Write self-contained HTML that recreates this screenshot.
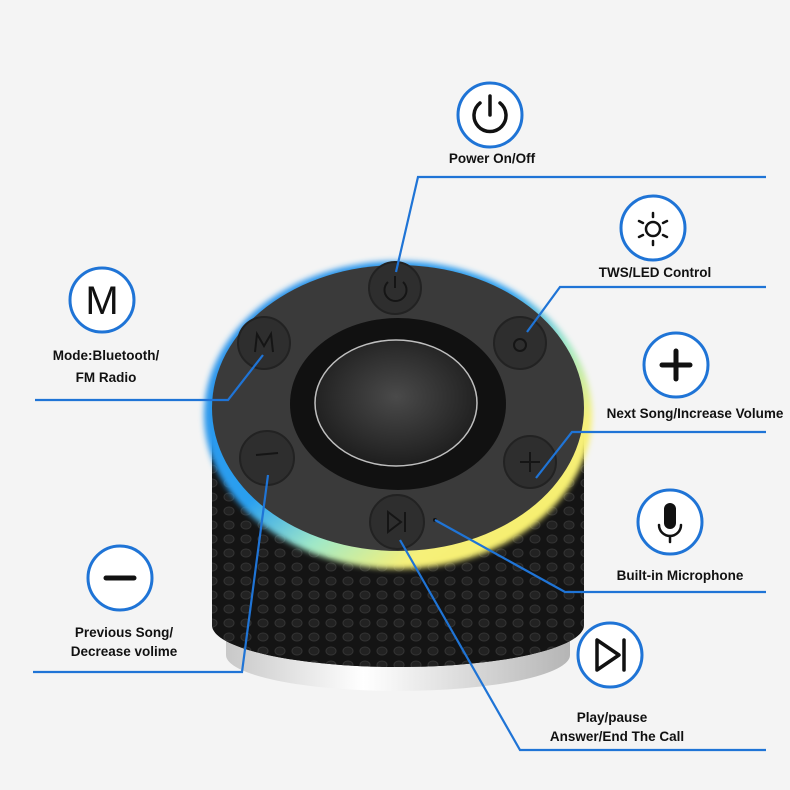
<!DOCTYPE html>
<html><head><meta charset="utf-8"><style>
html,body{margin:0;padding:0;background:#f4f4f4;}
svg{display:block}
text{font-family:"Liberation Sans",sans-serif;font-weight:bold;font-size:13.5px;fill:#111;text-anchor:middle}
</style></head><body>
<svg width="790" height="790" viewBox="0 0 790 790" xmlns="http://www.w3.org/2000/svg">
<defs>
<linearGradient id="glow" x1="0" y1="0" x2="1" y2="1">
<stop offset="0" stop-color="#2a8de8"/>
<stop offset="0.45" stop-color="#2aa0f0"/>
<stop offset="0.6" stop-color="#9fe8c8"/>
<stop offset="0.75" stop-color="#f6f07a"/>
<stop offset="1" stop-color="#f8ee60"/>
</linearGradient>
<radialGradient id="metal" cx="0.5" cy="0.45" r="0.6">
<stop offset="0" stop-color="#4a4a4a"/>
<stop offset="1" stop-color="#1a1a1a"/>
</radialGradient>
<linearGradient id="silver" x1="0" y1="0" x2="1" y2="0">
<stop offset="0" stop-color="#c8c8c8"/>
<stop offset="0.4" stop-color="#ffffff"/>
<stop offset="1" stop-color="#b5b5b5"/>
</linearGradient>
<pattern id="holes" width="17" height="14" patternUnits="userSpaceOnUse">
<rect width="17" height="14" fill="#141414"/>
<ellipse cx="8" cy="7" rx="5" ry="4" fill="#222" stroke="#333" stroke-width="1"/>
</pattern>
<filter id="blur" x="-10%" y="-10%" width="120%" height="120%"><feGaussianBlur stdDeviation="3"/></filter>
</defs>

<!-- speaker body -->
<ellipse cx="398" cy="655" rx="172" ry="36" fill="url(#silver)"/>
<rect x="226" y="560" width="344" height="95" fill="url(#silver)"/>
<ellipse cx="398" cy="625" rx="186" ry="42" fill="#141414"/>
<rect x="212" y="420" width="372" height="205" fill="url(#holes)"/>
<ellipse cx="398" cy="625" rx="186" ry="42" fill="url(#holes)"/>
<!-- glow ring -->
<ellipse cx="398" cy="415" rx="194" ry="154" fill="url(#glow)" filter="url(#blur)"/>
<ellipse cx="398" cy="408" rx="186" ry="143" fill="#3a3a3a"/>
<!-- center -->
<ellipse cx="398" cy="404" rx="108" ry="86" fill="#111"/>
<ellipse cx="396" cy="403" rx="81" ry="63" fill="url(#metal)" stroke="#bfbfbf" stroke-width="1.5"/>
<!-- buttons -->
<g fill="#2e2e2e" stroke="#222" stroke-width="2">
<circle cx="395" cy="288" r="26"/>
<circle cx="264" cy="343" r="26"/>
<circle cx="520" cy="343" r="26"/>
<circle cx="267" cy="458" r="27"/>
<circle cx="530" cy="462" r="26"/>
<circle cx="397" cy="522" r="27"/>
</g>
<g stroke="#151515" stroke-width="2" fill="none">
<path d="M388 282 A11 11 0 1 0 403 282"/><line x1="395" y1="276" x2="395" y2="288"/>
<path d="M255 352 L257 334 L264 346 L271 334 L273 352"/>
<circle cx="520" cy="345" r="6"/>
<line x1="256" y1="455" x2="278" y2="453"/>
<line x1="520" y1="462" x2="540" y2="462"/><line x1="530" y1="452" x2="530" y2="472"/>
<path d="M388 512 L388 532 L401 522 Z"/><line x1="405" y1="512" x2="405" y2="532"/>
</g>
<circle cx="435" cy="520" r="2" fill="#111"/>

<!-- connector lines -->
<g stroke="#1f74d6" stroke-width="2.2" fill="none">
<polyline points="766,177 418,177 396,272"/>
<polyline points="766,287 560,287 527,332"/>
<polyline points="35,400 228,400 263,355"/>
<polyline points="766,432 572,432 536,478"/>
<polyline points="435,520 565,592 766,592"/>
<polyline points="33,672 242,672 268,475"/>
<polyline points="400,540 520,750 766,750"/>
</g>

<!-- icon circles -->
<g fill="#fff" stroke="#1f74d6" stroke-width="3">
<circle cx="490" cy="115" r="32"/>
<circle cx="653" cy="228" r="32"/>
<circle cx="102" cy="300" r="32"/>
<circle cx="676" cy="365" r="32"/>
<circle cx="670" cy="522" r="32"/>
<circle cx="120" cy="578" r="32"/>
<circle cx="610" cy="655" r="32"/>
</g>
<g stroke="#111" fill="none" stroke-linecap="round">
<path d="M480 103 A16 16 0 1 0 500 103" stroke-width="3.5"/><line x1="490" y1="96" x2="490" y2="115" stroke-width="3.5"/>
<circle cx="653" cy="229" r="7" stroke-width="2.5"/>
<g stroke-width="2.5">
<line x1="653" y1="213" x2="653" y2="217"/><line x1="653" y1="241" x2="653" y2="245"/>
<line x1="639" y1="221" x2="643" y2="223"/><line x1="667" y1="221" x2="663" y2="223"/>
<line x1="639" y1="237" x2="643" y2="235"/><line x1="667" y1="237" x2="663" y2="235"/>
</g>
<line x1="662" y1="365" x2="690" y2="365" stroke-width="5"/><line x1="676" y1="351" x2="676" y2="379" stroke-width="5"/>
<line x1="106" y1="578" x2="134" y2="578" stroke-width="5"/>
<path d="M597 640 L597 670 L619 655 Z" stroke-width="3.5" stroke-linejoin="round"/><line x1="624" y1="640" x2="624" y2="670" stroke-width="3.5"/>
<path d="M659 525 A11 11 0 0 0 681 525" stroke-width="2.5"/><line x1="670" y1="536" x2="670" y2="542" stroke-width="2.5"/>
</g>
<rect x="664" y="503" width="12" height="26" rx="6" fill="#111"/>
<text x="102" y="314" style="font-size:40px;font-weight:normal">M</text>

<!-- labels -->
<text x="492" y="163">Power On/Off</text>
<text x="655" y="277">TWS/LED Control</text>
<text x="106" y="360">Mode:Bluetooth/</text>
<text x="106" y="382">FM Radio</text>
<text x="695" y="418">Next Song/Increase Volume</text>
<text x="680" y="580">Built-in Microphone</text>
<text x="124" y="637">Previous Song/</text>
<text x="124" y="656">Decrease volime</text>
<text x="612" y="722">Play/pause</text>
<text x="617" y="741">Answer/End The Call</text>
</svg>
</body></html>
